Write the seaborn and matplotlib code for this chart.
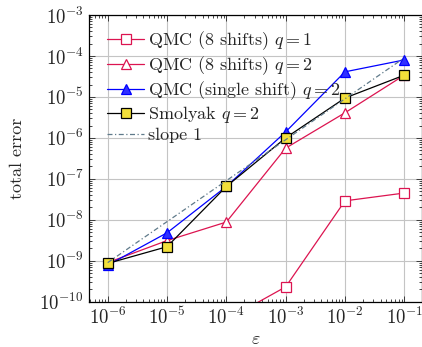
import matplotlib
matplotlib.use("Agg")
import matplotlib.pyplot as plt
import seaborn as sns
import numpy as np
import pandas as pd
from matplotlib.ticker import LogLocator, NullFormatter, FixedLocator

sns.set_style("ticks")
plt.rcParams['font.family'] = 'serif'
plt.rcParams['font.serif'] = ['cmr10', 'DejaVu Serif']
plt.rcParams['mathtext.fontset'] = 'cm'
plt.rcParams['axes.formatter.use_mathtext'] = True

eps = [1e-6, 1e-5, 1e-4, 1e-3, 1e-2, 1e-1]
eps_q1 = [1e-4, 1e-3, 1e-2, 1e-1]
qmc8_q1 = [3.6e-11, 2.3e-10, 2.9e-8, 4.5e-8]
qmc8_q2 = [9.0e-10, 3.1e-9, 8.8e-9, 5.6e-7, 4.1e-6, 3.4e-5]
qmc1_q2 = [7.8e-10, 4.8e-9, 6.5e-8, 1.4e-6, 4.1e-5, 8.0e-5]
smolyak = [8.6e-10, 2.2e-9, 6.5e-8, 1.0e-6, 9.4e-6, 3.4e-5]
slope1 = [9e-10, 9e-9, 9e-8, 9e-7, 9e-6, 9e-5]
y_ticks = [1e-10, 1e-9, 1e-8, 1e-7, 1e-6, 1e-5, 1e-4, 1e-3]

labels = ["QMC (8 shifts) $q=1$", "QMC (8 shifts) $q=2$",
          "QMC (single shift) $q=2$", "Smolyak $q=2$", "slope 1"]

crimson = '#DC1450'
fig = plt.figure(figsize=(4.22, 3.47), dpi=100)
ax = fig.add_axes([89.3/422, 1-301.7/347, (421.5-89.3)/422, (301.7-15)/347])

sns.lineplot(x=eps_q1, y=qmc8_q1, ax=ax, color=crimson, lw=0.9, marker='s',
             markersize=6.5, markerfacecolor='white', markeredgecolor=crimson,
             markeredgewidth=0.9, label=labels[0])
sns.lineplot(x=eps, y=qmc8_q2, ax=ax, color=crimson, lw=0.9, marker='^',
             markersize=7.5, markerfacecolor='white', markeredgecolor=crimson,
             markeredgewidth=0.9, label=labels[1])
sns.lineplot(x=eps, y=qmc1_q2, ax=ax, color='#0000FF', lw=0.9, marker='^',
             markersize=7.5, markerfacecolor='#3030FF', markeredgecolor='#0000FF',
             markeredgewidth=0.9, label=labels[2])
sns.lineplot(x=eps, y=smolyak, ax=ax, color='black', lw=0.9, marker='s',
             markersize=7.5, markerfacecolor='#F2DF3A', markeredgecolor='black',
             markeredgewidth=0.9, label=labels[3])
sns.lineplot(x=eps, y=slope1, ax=ax, color='#5F7A8A', lw=0.9,
             linestyle=(0, (4, 2, 1, 2)), label=labels[4])

ax.set_xscale('log')
ax.set_yscale('log')
ax.set_xlim(10**-6.31, 10**-0.71)
ax.set_ylim(1e-10, 1e-3)

ax.xaxis.set_major_locator(FixedLocator(eps))
ax.yaxis.set_major_locator(FixedLocator(y_ticks))
ax.xaxis.set_minor_locator(LogLocator(base=10, subs=np.arange(2, 10), numticks=20))
ax.yaxis.set_minor_locator(LogLocator(base=10, subs=np.arange(2, 10), numticks=20))
ax.xaxis.set_minor_formatter(NullFormatter())
ax.yaxis.set_minor_formatter(NullFormatter())

ax.grid(True, which='major', color='#C4C4C4', lw=0.8)
ax.set_axisbelow(True)
ax.tick_params(which='both', direction='in', top=True, right=True, labelsize=13.5, width=0.6)
ax.tick_params(which='major', length=4, pad=4)
ax.tick_params(which='minor', length=2.2)
for s in ax.spines.values():
    s.set_linewidth(0.9)
    s.set_color('black')

ax.set_xlabel(r'$\varepsilon$', fontsize=13, labelpad=2)
ax.set_ylabel('total error', fontsize=13, labelpad=10)

leg = ax.legend(loc='upper left', bbox_to_anchor=(0.033, 0.975), frameon=False,
                fontsize=13, handlelength=2.0, labelspacing=0.12, handletextpad=0.25,
                borderaxespad=0)

fig.savefig('out.png', dpi=100)
